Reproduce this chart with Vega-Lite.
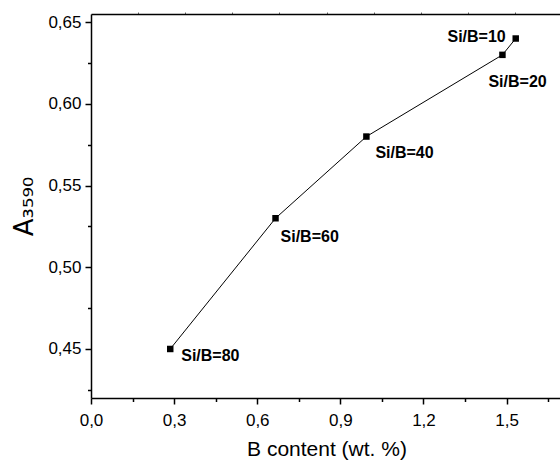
{
  "$schema": "https://vega.github.io/schema/vega-lite/v6.json",
  "width": 471,
  "height": 384,
  "autosize": {"type": "none"},
  "padding": {"left": 91, "top": 14, "right": 0, "bottom": 63},
  "background": "white",
  "config": {"view": {"stroke": null}, "font": "Liberation Sans"},
  "resolve": {"axis": {"x": "independent", "y": "independent"}},
  "data": {
    "values": [
      {"b": 0.286, "a": 0.45, "label": "Si/B=80"},
      {"b": 0.666, "a": 0.53, "label": "Si/B=60"},
      {"b": 0.994, "a": 0.58, "label": "Si/B=40"},
      {"b": 1.485, "a": 0.63, "label": "Si/B=20"},
      {"b": 1.533, "a": 0.64, "label": "Si/B=10"}
    ]
  },
  "layer": [
    {
      "mark": {"type": "line", "color": "black", "strokeWidth": 1},
      "encoding": {
        "x": {
          "field": "b", "type": "quantitative",
          "scale": {"domain": [0, 1.7], "nice": false, "zero": false},
          "axis": {
            "orient": "bottom",
            "title": "B content (wt. %)",
            "values": [0, 0.3, 0.6, 0.9, 1.2, 1.5],
            "labelExpr": "replace(format(datum.value, '.1f'), '.', ',')",
            "tickSize": 6, "tickColor": "black", "tickWidth": 1.5,
            "domainColor": "black", "domainWidth": 1.5,
            "grid": false,
            "labelFont": "Liberation Sans", "labelFontSize": 17, "labelColor": "black",
            "labelPadding": 8, "labelOverlap": false, "labelFlush": false,
            "titleFont": "Liberation Sans", "titleFontSize": 21, "titleFontWeight": "normal", "titleColor": "black",
            "titlePadding": 10
          }
        },
        "y": {
          "field": "a", "type": "quantitative",
          "scale": {"domain": [0.42, 0.655], "nice": false, "zero": false},
          "axis": {
            "orient": "left",
            "title": "A₃₅₉₀",
            "values": [0.45, 0.5, 0.55, 0.6, 0.65],
            "labelExpr": "replace(format(datum.value, '.2f'), '.', ',')",
            "tickSize": 6, "tickColor": "black", "tickWidth": 1.5,
            "domainColor": "black", "domainWidth": 1.5,
            "grid": false,
            "labelFont": "Liberation Sans", "labelFontSize": 17, "labelColor": "black",
            "labelPadding": 4, "labelOverlap": false, "labelFlush": false,
            "titleFont": "DejaVu Sans", "titleFontSize": 26, "titleFontWeight": "normal", "titleColor": "black",
            "titlePadding": 10
          }
        }
      }
    },
    {
      "mark": {"type": "point", "shape": "square", "filled": true, "color": "black", "size": 42, "opacity": 1},
      "encoding": {
        "x": {
          "field": "b", "type": "quantitative",
          "axis": {
            "orient": "top", "title": null, "labels": false, "grid": false,
            "values": [0.17, 0.34, 0.51, 0.68, 0.85, 1.02, 1.19, 1.36, 1.53],
            "tickSize": 2, "tickColor": "#666", "tickWidth": 1,
            "domainColor": "black", "domainWidth": 1.5
          }
        },
        "y": {"field": "a", "type": "quantitative", "axis": null}
      }
    },
    {
      "transform": [{"filter": "datum.label === 'Si/B=80'"}],
      "mark": {"type": "text", "align": "left", "baseline": "middle", "dx": 11, "dy": 7, "fontSize": 16, "fontWeight": "bold", "font": "Liberation Sans", "color": "black"},
      "encoding": {
        "x": {
          "field": "b", "type": "quantitative",
          "axis": {
            "orient": "bottom", "title": null, "labels": false, "grid": false, "domain": false,
            "values": [0.15, 0.45, 0.75, 1.05, 1.35, 1.65],
            "tickSize": 3.5, "tickColor": "black", "tickWidth": 1.5
          }
        },
        "y": {
          "field": "a", "type": "quantitative",
          "axis": {
            "orient": "left", "title": null, "labels": false, "grid": false, "domain": false,
            "values": [0.425, 0.475, 0.525, 0.575, 0.625],
            "tickSize": 3.5, "tickColor": "black", "tickWidth": 1.5
          }
        },
        "text": {"field": "label"}
      }
    },
    {
      "transform": [{"filter": "datum.label === 'Si/B=60'"}],
      "mark": {"type": "text", "align": "left", "baseline": "middle", "dx": 5, "dy": 19, "fontSize": 16, "fontWeight": "bold", "font": "Liberation Sans", "color": "black"},
      "encoding": {
        "x": {"field": "b", "type": "quantitative", "axis": null},
        "y": {"field": "a", "type": "quantitative", "axis": null},
        "text": {"field": "label"}
      }
    },
    {
      "transform": [{"filter": "datum.label === 'Si/B=40'"}],
      "mark": {"type": "text", "align": "left", "baseline": "middle", "dx": 9, "dy": 16, "fontSize": 16, "fontWeight": "bold", "font": "Liberation Sans", "color": "black"},
      "encoding": {
        "x": {"field": "b", "type": "quantitative", "axis": null},
        "y": {"field": "a", "type": "quantitative", "axis": null},
        "text": {"field": "label"}
      }
    },
    {
      "transform": [{"filter": "datum.label === 'Si/B=20'"}],
      "mark": {"type": "text", "align": "left", "baseline": "middle", "dx": -14, "dy": 27, "fontSize": 16, "fontWeight": "bold", "font": "Liberation Sans", "color": "black"},
      "encoding": {
        "x": {"field": "b", "type": "quantitative", "axis": null},
        "y": {"field": "a", "type": "quantitative", "axis": null},
        "text": {"field": "label"}
      }
    },
    {
      "transform": [{"filter": "datum.label === 'Si/B=10'"}],
      "mark": {"type": "text", "align": "right", "baseline": "middle", "dx": -10, "dy": -2, "fontSize": 16, "fontWeight": "bold", "font": "Liberation Sans", "color": "black"},
      "encoding": {
        "x": {"field": "b", "type": "quantitative", "axis": null},
        "y": {"field": "a", "type": "quantitative", "axis": null},
        "text": {"field": "label"}
      }
    }
  ]
}
